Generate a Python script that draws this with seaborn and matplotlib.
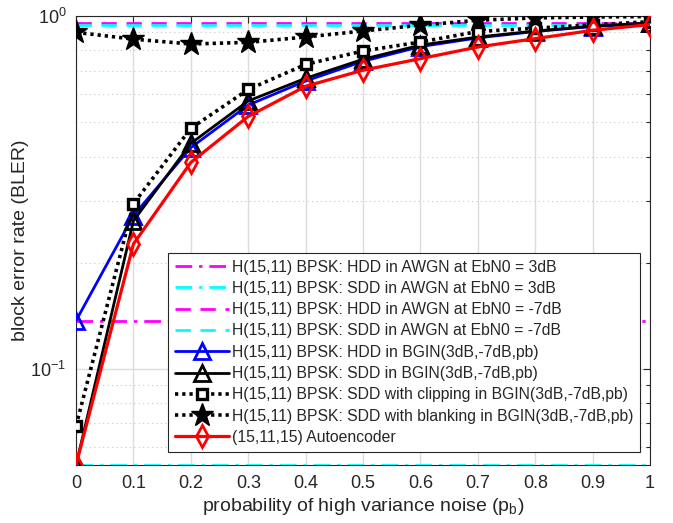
import numpy as np
import pandas as pd
import matplotlib
matplotlib.use("Agg")
import matplotlib.pyplot as plt
import seaborn as sns
from matplotlib.ticker import LogLocator, NullFormatter

# ---- data ----
pb = [0.0, 0.1, 0.2, 0.3, 0.4, 0.5, 0.6, 0.7, 0.8, 0.9, 1.0]
awgn_x = [0.0, 1.0]
hdd_awgn_3db = 0.137
sdd_awgn_3db = 0.0534
hdd_awgn_m7db = 0.958
sdd_awgn_m7db = 0.943
hdd_bgin = [0.137, 0.272, 0.424, 0.560, 0.655, 0.745, 0.820, 0.868, 0.905, 0.935, 0.955]
sdd_bgin = [0.0534, 0.263, 0.436, 0.575, 0.667, 0.755, 0.828, 0.873, 0.908, 0.937, 0.957]
sdd_clip = [0.0689, 0.294, 0.481, 0.620, 0.730, 0.797, 0.845, 0.905, 0.925, 0.945, 0.965]
sdd_blank = [0.900, 0.861, 0.834, 0.843, 0.873, 0.908, 0.943, 0.974, 0.989, 0.995, 0.998]
autoenc = [0.0534, 0.226, 0.385, 0.520, 0.633, 0.703, 0.758, 0.818, 0.864, 0.912, 0.947]

labels = [
    "H(15,11) BPSK: HDD in AWGN at EbN0 = 3dB",
    "H(15,11) BPSK: SDD in AWGN at EbN0 = 3dB",
    "H(15,11) BPSK: HDD in AWGN at EbN0 = -7dB",
    "H(15,11) BPSK: SDD in AWGN at EbN0 = -7dB",
    "H(15,11) BPSK: HDD in BGIN(3dB,-7dB,pb)",
    "H(15,11) BPSK: SDD in BGIN(3dB,-7dB,pb)",
    "H(15,11) BPSK: SDD with clipping in BGIN(3dB,-7dB,pb)",
    "H(15,11) BPSK: SDD with blanking in BGIN(3dB,-7dB,pb)",
    "(15,11,15) Autoencoder",
]
xtick_labels = ["0", "0.1", "0.2", "0.3", "0.4", "0.5", "0.6", "0.7", "0.8", "0.9", "1"]

sns.set_theme(style="white")
plt.rcParams["font.family"] = ["Liberation Sans", "DejaVu Sans"]
plt.rcParams["mathtext.default"] = "regular"

fig = plt.figure(figsize=(6.73, 5.23), dpi=100)
ax = fig.add_axes([0.113, 0.111, 0.853, 0.858])

dashdot = (0, (6, 2.5, 1.2, 2.5))
dashed = (0, (5.5, 3.5))
dotted = (0, (0.9, 1.1))
lw = 2.0

def hline(val, color, ls, label):
    sns.lineplot(x=awgn_x, y=[val, val], ax=ax, color=color, linestyle=ls,
                 linewidth=lw, label=label, zorder=3)

hline(hdd_awgn_3db, "#ff00ff", dashdot, labels[0])
hline(sdd_awgn_3db, "#00ffff", dashdot, labels[1])
hline(hdd_awgn_m7db, "#ff00ff", dashed, labels[2])
hline(sdd_awgn_m7db, "#00ffff", dashed, labels[3])

sns.lineplot(x=pb, y=hdd_bgin, ax=ax, color="#0000ff", linestyle="-", linewidth=lw,
             marker="^", markersize=11, markerfacecolor="none", markeredgecolor="#0000ff",
             markeredgewidth=2, label=labels[4], zorder=4)
sns.lineplot(x=pb, y=sdd_bgin, ax=ax, color="black", linestyle="-", linewidth=lw,
             marker="^", markersize=11, markerfacecolor="none", markeredgecolor="black",
             markeredgewidth=2, label=labels[5], zorder=4)
sns.lineplot(x=pb, y=sdd_clip, ax=ax, color="black", linestyle=dotted, linewidth=lw + 0.6,
             marker="s", markersize=7, markerfacecolor="white", markeredgecolor="black",
             markeredgewidth=2.4, label=labels[6], zorder=4)
sns.lineplot(x=pb, y=sdd_blank, ax=ax, color="black", linestyle=dotted, linewidth=lw + 0.6,
             marker="*", markersize=17, markerfacecolor="black", markeredgecolor="black",
             markeredgewidth=1, label=labels[7], zorder=4)
sns.lineplot(x=pb, y=autoenc, ax=ax, color="#ff0000", linestyle="-", linewidth=lw + 0.3,
             marker="d", markersize=11, markerfacecolor="none", markeredgecolor="#ff0000",
             markeredgewidth=2, label=labels[8], zorder=5)

ax.set_yscale("log")
ax.set_xlim(0, 1)
ax.set_ylim(0.0534, 1.0)
ax.set_xticks(pb)
ax.set_xticklabels(xtick_labels)
ax.yaxis.set_major_locator(LogLocator(base=10))
ax.yaxis.set_minor_locator(LogLocator(base=10, subs=np.arange(2, 10)))
ax.yaxis.set_minor_formatter(NullFormatter())

ax.grid(True, which="major", color="#dcdcdc", linewidth=1.0, linestyle="-")
ax.grid(True, which="minor", axis="y", color="#c8c8c8", linewidth=0.8, linestyle=(0, (1, 3)))
ax.set_axisbelow(True)

dark = "#262626"
for sp in ax.spines.values():
    sp.set_color(dark)
    sp.set_linewidth(0.8)
    sp.set_visible(True)
ax.tick_params(which="both", direction="in", top=True, right=True, color=dark,
               labelcolor=dark, labelsize=13, width=0.8)
ax.tick_params(which="major", length=5, pad=7)
ax.tick_params(which="minor", length=3)

ax.set_xlabel("probability of high variance noise (p$_b$)", fontsize=14, color=dark, labelpad=3)
ax.set_ylabel("block error rate (BLER)", fontsize=14, color=dark, labelpad=1)

leg = ax.legend(loc="lower right", bbox_to_anchor=(0.983, 0.029), borderaxespad=0,
                fontsize=11.3, frameon=True, fancybox=False, framealpha=1,
                edgecolor=dark, handlelength=3.4, labelspacing=0.4, handletextpad=0.2,
                borderpad=0.45, numpoints=1)
leg.get_frame().set_linewidth(0.8)
leg.set_zorder(10)

fig.savefig("out.png", dpi=100)
